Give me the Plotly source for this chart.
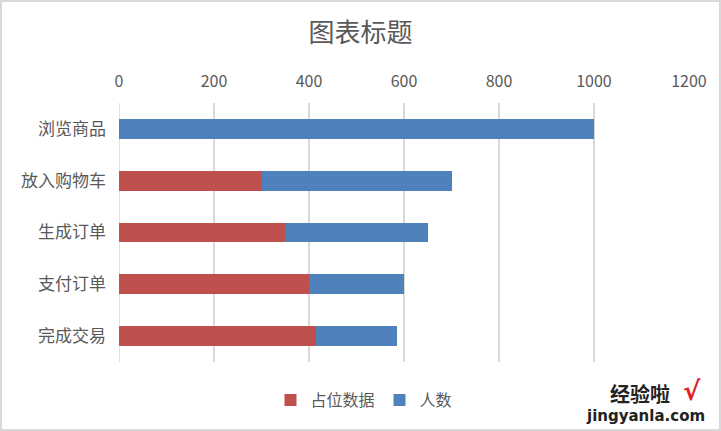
import plotly.graph_objects as go

categories = ["浏览商品", "放入购物车", "生成订单", "支付订单", "完成交易"]
placeholder = [0, 300, 350, 400, 415]
people = [1000, 400, 300, 200, 170]
series_names = ["占位数据", "人数"]
x_ticks = [0, 200, 400, 600, 800, 1000, 1200]

FONT = "Noto Sans CJK SC, Noto Sans, sans-serif"
GRAY = "#595959"

fig = go.Figure()
fig.add_trace(go.Bar(y=categories, x=placeholder, orientation="h", name=series_names[0],
                     marker=dict(color="#C0504D", line=dict(width=0))))
fig.add_trace(go.Bar(y=categories, x=people, orientation="h", name=series_names[1],
                     marker=dict(color="#4F81BD", line=dict(width=0))))

L, R, T, B = 119, 32, 103, 69
W, H = 721, 431
pw, ph = W - L - R, H - T - B

fig.update_layout(
    width=W, height=H,
    barmode="stack", bargap=0.62,
    margin=dict(l=L, r=R, t=T, b=B, pad=0),
    paper_bgcolor="white", plot_bgcolor="white",
    font=dict(family=FONT, color=GRAY),
    title=dict(text="图表标题", x=0.5, xanchor="center", y=1 - 33 / H, yanchor="middle",
               font=dict(size=26, color=GRAY, family=FONT)),
    xaxis=dict(side="top", range=[0, 1200], tickvals=x_ticks, ticktext=[str(v) for v in x_ticks],
               showgrid=True, gridcolor="#D9D9D9", gridwidth=1.5, zeroline=False,
               showline=False, ticks="", ticklabelstandoff=12,
               tickfont=dict(size=16, color=GRAY, family=FONT)),
    yaxis=dict(autorange="reversed", showgrid=False, zeroline=False, showline=False,
               ticks="", ticklabelstandoff=12,
               tickfont=dict(size=17, color=GRAY, family=FONT)),
    legend=dict(orientation="h", x=(364 - L) / pw, xanchor="center",
                y=-(400 - (H - B)) / ph, yanchor="middle",
                font=dict(size=16, color=GRAY, family=FONT),
                itemwidth=30, traceorder="normal"),
    showlegend=True,
)

# zero line / left grid line
fig.add_shape(type="line", xref="x", yref="paper", x0=0, x1=0, y0=0, y1=1,
              line=dict(color="#D9D9D9", width=1.5), layer="below")

# outer border
fig.add_shape(type="rect", xref="paper", yref="paper",
              x0=-(L - 1) / pw, x1=(W - L - 1) / pw, y0=-(B - 1) / ph, y1=(H - B - 1) / ph,
              line=dict(color="#D9D9D9", width=2), fillcolor="rgba(0,0,0,0)", layer="below")

# watermark
fig.add_annotation(xref="paper", yref="paper", x=(640 - L) / pw, y=-(393 - (H - B)) / ph,
                   text="<b>经验啦</b>", showarrow=False, xanchor="center", yanchor="middle",
                   font=dict(size=20, color="#222222", family=FONT))
fig.add_annotation(xref="paper", yref="paper", x=(692 - L) / pw, y=-(391 - (H - B)) / ph,
                   text="<b>√</b>", showarrow=False, xanchor="center", yanchor="middle",
                   font=dict(size=26, color="#E02020", family="DejaVu Sans"))
fig.add_annotation(xref="paper", yref="paper", x=(645 - L) / pw, y=-(416 - (H - B)) / ph,
                   text="<b>jingyanla.com</b>", showarrow=False, xanchor="center", yanchor="middle",
                   font=dict(size=15, color="#222222", family="DejaVu Sans"))

fig.write_html("out.html", config={"displayModeBar": False},
               post_script="document.body.style.margin='0';document.body.style.overflow='hidden';")
